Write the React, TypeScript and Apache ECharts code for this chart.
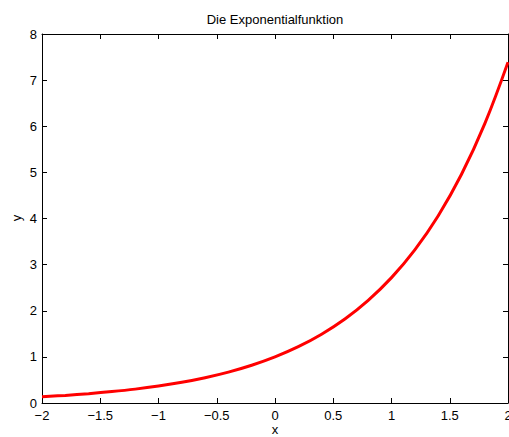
import React, { useEffect, useRef } from "react";
import * as echarts from "echarts";

const xValues = [-2, -1.8, -1.6, -1.4, -1.2, -1, -0.8, -0.6, -0.4, -0.2, 0, 0.2, 0.4, 0.6, 0.8, 1, 1.2, 1.4, 1.6, 1.8, 2];
const yValues = [0.135, 0.165, 0.202, 0.247, 0.301, 0.368, 0.449, 0.549, 0.67, 0.819, 1.0, 1.221, 1.492, 1.822, 2.226, 2.718, 3.32, 4.055, 4.953, 6.05, 7.389];
const titleText = "Die Exponentialfunktion";
const xName = "x";
const yName = "y";

const FONT = "'Liberation Sans', Arial, Helvetica, sans-serif";

export default function App() {
  const ref = useRef<HTMLDivElement>(null);
  useEffect(() => {
    if (!ref.current) return;
    const chart = echarts.init(ref.current, null, { renderer: "svg" });
    const fmt = (v: number) => String(v).replace("-", "\u2212");
    const axisLine = { show: true, onZero: false, lineStyle: { color: "#000", width: 1 } };
    const tick = { show: true, inside: true, length: 5, lineStyle: { color: "#000", width: 1 } };
    const txt = { fill: "#000", fontSize: 13, fontFamily: FONT, align: "center", verticalAlign: "middle" };
    chart.setOption({
      animation: false,
      backgroundColor: "#fff",
      textStyle: { fontFamily: FONT },
      graphic: [
        { type: "text", x: 275, y: 19, style: { ...txt, text: titleText } },
        { type: "text", x: 275, y: 429, style: { ...txt, text: xName } },
        { type: "text", x: 16, y: 218, rotation: Math.PI / 2, style: { ...txt, text: yName } },
      ],
      grid: { left: 42, top: 34, right: 1, bottom: 34, containLabel: false, outerBoundsMode: "none" },
      xAxis: [
        {
          type: "value",
          min: -2,
          max: 2,
          interval: 0.5,
          position: "bottom",
          axisLine,
          axisTick: tick,
          splitLine: { show: false },
          axisLabel: { formatter: fmt, color: "#000", fontSize: 13, margin: 6, fontFamily: FONT, showMaxLabel: true, hideOverlap: false },
        },
        {
          type: "value",
          min: -2,
          max: 2,
          interval: 0.5,
          position: "top",
          axisLine,
          axisTick: tick,
          splitLine: { show: false },
          axisLabel: { show: false },
        },
      ],
      yAxis: [
        {
          type: "value",
          min: 0,
          max: 8,
          interval: 1,
          position: "left",
          axisLine,
          axisTick: tick,
          splitLine: { show: false },
          axisLabel: { color: "#000", fontSize: 13, margin: 5, fontFamily: FONT },
        },
        {
          type: "value",
          min: 0,
          max: 8,
          interval: 1,
          position: "right",
          axisLine,
          axisTick: tick,
          splitLine: { show: false },
          axisLabel: { show: false },
        },
      ],
      series: [
        {
          type: "line",
          data: xValues.map((x, i) => [x, yValues[i]]),
          smooth: 0.4,
          showSymbol: false,
          symbol: "none",
          clip: true,
          lineStyle: { color: "#ff0000", width: 3 },
        },
      ],
    });
    return () => chart.dispose();
  }, []);
  return <div ref={ref} style={{ width: 509, height: 437, position: "absolute", left: 0, top: 0 }} />;
}
